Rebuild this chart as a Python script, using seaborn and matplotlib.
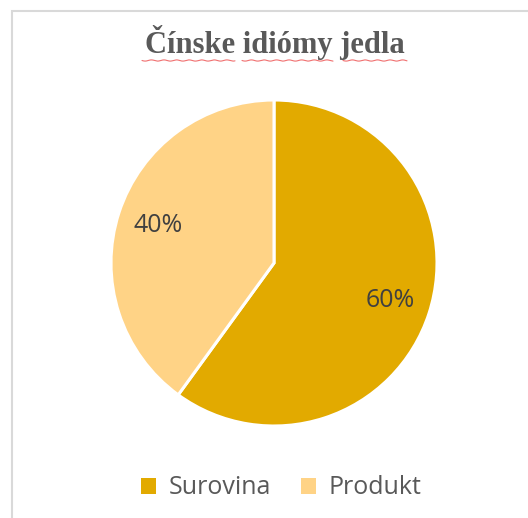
import numpy as np
import matplotlib
matplotlib.use('Agg')
import matplotlib.pyplot as plt
import seaborn as sns
from matplotlib.patches import Patch, Rectangle

sns.set_theme(style="white")
plt.rcParams['font.family'] = ['Open Sans', 'DejaVu Sans']

# Data
categories = ['Surovina', 'Produkt']
shares = [60, 40]
colors = ['#E2AA00', '#FFD386']
title = 'Čínske idiómy jedla'

W, H = 528, 518
fig = plt.figure(figsize=(W / 100, H / 100), dpi=100)
fig.patch.set_facecolor('white')

# light frame of the chart area (only top/left visible in the crop)
fig.patches.append(Rectangle((11.5 / W, -0.05), 1.2, 1 - 10.5 / H + 0.05,
                             transform=fig.transFigure, fill=False,
                             edgecolor='#D9D9D9', linewidth=1.5))

# pie axes: centre (274, 263), radius 163 px
cx, cy, r = 274, 263, 163
ax = fig.add_axes([(cx - r) / W, 1 - (cy + r) / H, 2 * r / W, 2 * r / H])
wedges, _, autotexts = ax.pie(shares, colors=colors, startangle=90, counterclock=False,
                              autopct='%1.0f%%', pctdistance=0.75,
                              wedgeprops=dict(edgecolor='white', linewidth=2.2),
                              textprops=dict(color='#404040', fontsize=18))
ax.set_xlim(-1, 1)
ax.set_ylim(-1, 1)
ax.set_aspect('equal')
ax.axis('off')

# title
fig.text(275 / W, 1 - 42 / H, title, ha='center', va='center',
         fontsize=22, fontweight='bold', color='#595959',
         family=['Liberation Serif', 'DejaVu Serif'])

# spell-check squiggles under the title words
for x0, x1 in [(142, 235), (242, 333), (343, 407)]:
    xs = np.linspace(x0, x1, 200)
    ys = 60.5 + 0.6 * np.sin((xs - x0) / 2.0)
    fig.add_artist(plt.Line2D(xs / W, 1 - ys / H, transform=fig.transFigure,
                              color='#F07070', linewidth=0.8))

# legend
handles = [Patch(facecolor=c, edgecolor='none', label=l) for c, l in zip(colors, categories)]
fig.legend(handles=handles, loc='center', bbox_to_anchor=(281 / W, 1 - 488 / H),
           ncol=2, frameon=False, fontsize=18, handlelength=0.6, handleheight=0.6,
           handletextpad=0.5, columnspacing=1.2, labelcolor='#595959')

fig.savefig('out.png', dpi=100)
